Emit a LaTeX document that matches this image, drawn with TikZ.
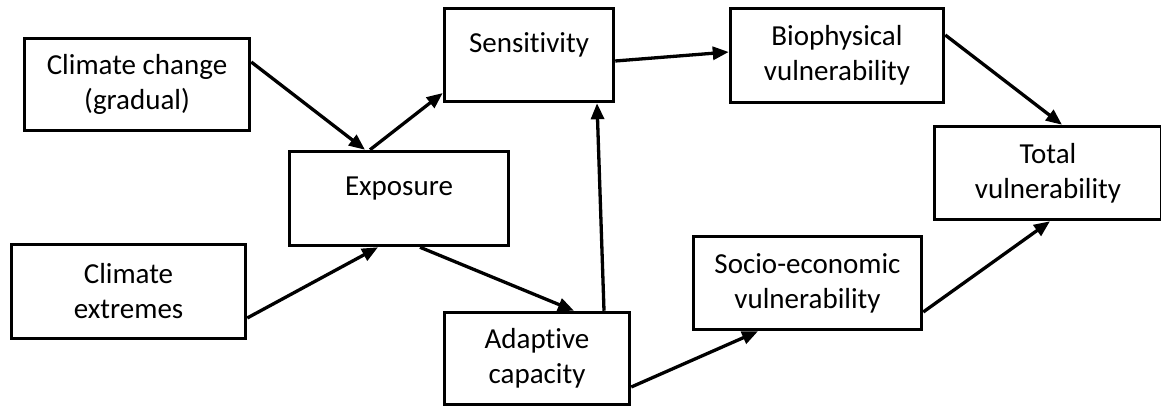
\documentclass[tikz,border=0pt]{standalone}
\usepackage{fontspec}
\setmainfont[Ligatures=NoCommon]{Carlito}
\usetikzlibrary{arrows.meta,calc}
\begin{document}
\begin{tikzpicture}[x=1pt,y=-1pt,
  box/.style={draw=black, line width=3.5pt, rectangle, align=center, inner sep=0pt,
    font=\fontsize{29}{35}\selectfont},
  one/.style={text height=20pt, text depth=#1},
  conn/.style={line width=3.3pt, -{Triangle[length=16pt,width=13pt]}}]
\useasboundingbox (0,0) rectangle (1161,409);
\node[box, minimum width=225pt, minimum height=92pt] (cc) at (137,84.5) {Climate change\\(gradual)};
\node[box, minimum width=234pt, minimum height=94pt] (ce) at (128.5,291.5) {Climate\\extremes};
\node[box, minimum width=219pt, minimum height=94pt, one=27pt] (exp) at (399,198.5) {Exposure};
\node[box, minimum width=169pt, minimum height=93pt, one=24pt] (sens) at (529,55) {Sensitivity};
\node[box, minimum width=185pt, minimum height=92pt] (ad) at (537,358.5) {Adaptive\\capacity};
\node[box, minimum width=213pt, minimum height=94pt] (bio) at (837,55.5) {Biophysical\\vulnerability};
\node[box, minimum width=228pt, minimum height=93pt] (se) at (807.5,283) {Socio-economic\\vulnerability};
\node[box, minimum width=227pt, minimum height=93pt] (tot) at (1048,173) {Total\\vulnerability};
\draw[conn] ([yshift=22.5pt]cc.east) -- ([xshift=-34pt]exp.north);
\draw[conn] ([xshift=-29pt]exp.north) -- ([yshift=-38pt]sens.west);
\draw[conn] ([yshift=-26.5pt]ce.east) -- ([xshift=-21pt]exp.south);
\draw[conn] ([xshift=21pt]exp.south) -- ([xshift=37pt]ad.north);
\draw[conn] ([xshift=67pt]ad.north) -- ([xshift=68pt]sens.south);
\draw[conn] ([yshift=-6pt]sens.east) -- ([yshift=3.5pt]bio.west);
\draw[conn] ([yshift=20.5pt]bio.east) -- ([xshift=14pt]tot.north);
\draw[conn] ([yshift=-28.5pt]ad.east) -- ([xshift=-49.5pt]se.south);
\draw[conn] ([yshift=-29pt]se.east) -- ([xshift=2pt]tot.south);
\end{tikzpicture}
\end{document}
